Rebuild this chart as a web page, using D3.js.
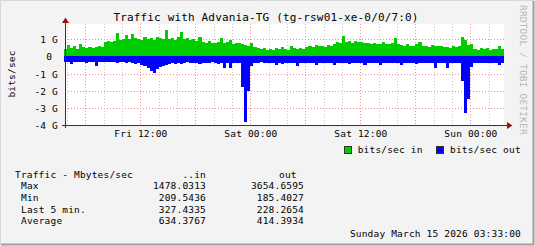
<html>
<head>
<style>
  body { margin: 0; background: #f3f3f3; }
  text { font-family: "DejaVu Sans Mono", monospace; font-size: 9.5px; letter-spacing: 0.18px; fill: #000; }
  .grid-minor { stroke: #c8c8c8; stroke-dasharray: 1,2; shape-rendering: crispEdges; }
  .grid-major { stroke: #f09090; stroke-dasharray: 1,2; shape-rendering: crispEdges; }
</style>
</head>
<body>
<svg id="chart" width="535" height="246"></svg>

<script src="https://d3js.org/d3.v7.min.js"></script>
<script>
// 20 minute samples, Fri 13 Mar 03:40 -> Sun 15 Mar 03:40, Gbit/s
const inBits = [
  0.45, 0.65, 0.50, 0.58, 0.45, 0.72, 0.52, 0.50, 0.56, 0.48, 0.55, 0.60, 0.55,
  0.82, 0.88, 0.85, 0.90,
  1.35,
  0.95, 1.00, 1.25, 1.00, 1.30, 1.05, 1.00, 0.95, 1.10, 1.00, 1.05, 0.98, 1.10, 1.05, 1.00,
  1.55,
  1.00, 1.05, 0.95, 1.10, 1.40, 1.00, 1.05, 0.95, 1.00, 0.90, 1.10,
  0.85, 0.80, 0.92, 0.80, 0.78, 0.85, 1.05, 0.80, 0.85, 0.95, 0.75,
  0.78, 0.80, 0.70, 0.65, 0.62, 0.80, 0.55, 0.50, 0.45, 0.50,
  0.40, 0.45, 0.35, 0.50, 0.42, 0.55, 0.45, 0.40, 0.58, 0.48, 0.42, 0.50, 0.45,
  0.55, 0.60, 0.52, 0.65, 0.58, 0.62, 0.55, 0.68, 0.60,
  0.75, 0.82, 0.80, 1.20, 0.85, 0.88, 0.80, 0.92, 0.82, 0.85, 0.80,
  0.78, 0.72, 0.80, 0.75, 0.70, 0.82, 0.75, 0.70, 0.78, 1.05, 0.70,
  0.65, 0.60, 0.72, 0.62, 0.58, 0.70, 0.85, 0.60, 0.62, 0.55, 0.65, 0.60, 0.58, 0.62, 0.55,
  0.55, 0.50, 0.58, 0.52, 0.60,
  1.10, 0.95, 0.65, 0.75,
  0.45, 0.40, 0.48, 0.42, 0.50, 0.38, 0.45, 0.42, 0.62, 0.45
]
const outBits = [
  0.30, 0.32, 0.42, 0.30, 0.33, 0.30, 0.35, 0.38, 0.32, 0.30, 0.55, 0.35, 0.33,
  0.32, 0.30, 0.35, 0.33, 0.38, 0.32, 0.35, 0.40, 0.35, 0.38, 0.42, 0.40, 0.50,
  0.55, 0.65, 0.85, 0.95, 0.75, 0.60, 0.55, 0.50,
  0.45, 0.40, 0.45, 0.38, 0.42, 0.40, 0.35, 0.38, 0.40, 0.36,
  0.42, 0.38, 0.40, 0.36, 0.35, 0.38, 0.42, 0.40, 0.65, 0.38, 0.70, 0.40, 0.38,
  0.40,
  1.75, 3.80, 2.00, 0.55,
  0.40, 0.38, 0.35, 0.40, 0.38, 0.36, 0.38, 0.50, 0.40, 0.42, 0.38, 0.36, 0.40, 0.38, 0.55, 0.40, 0.36,
  0.38, 0.40, 0.36, 0.50, 0.38, 0.40, 0.36, 0.38, 0.40, 0.48,
  0.38, 0.40, 0.36, 0.38, 0.42, 0.38, 0.40, 0.36, 0.38, 0.50,
  0.40, 0.38, 0.36, 0.40, 0.48, 0.38, 0.40, 0.36, 0.38, 0.40,
  0.38, 0.50, 0.40, 0.36, 0.38, 0.40, 0.42, 0.38, 0.36, 0.40,
  0.38, 0.40, 0.65, 0.38, 0.40, 0.36, 0.68, 0.40, 0.38, 0.36, 0.40,
  1.45, 3.30, 2.50, 0.60,
  0.40, 0.38, 0.36, 0.40, 0.38, 0.36, 0.40, 0.38, 0.50, 0.36
]
const yTicks = [1, 0, -1, -2, -3, -4]
const statRows = ["Max", "Min", "Last 5 min.", "Average"]
const statIn = ["1478.0313", "209.5436", "327.4335", "634.3767"]
const statOut = ["3654.6595", "185.4027", "228.2654", "414.3934"]

const startTime = new Date(2026, 2, 13, 3, 40)
const endTime = new Date(2026, 2, 15, 3, 40)
const stepMs = 20 * 60 * 1000

let svg = d3.select("#chart")

// frame
svg.append("rect").attr("width", 535).attr("height", 246).attr("fill", "#f3f3f3")
svg.append("path").attr("d", "M0.5,245 V0.5 H534").attr("stroke", "#d8d8d8").attr("fill", "none")
svg.append("path").attr("d", "M1,244.5 H533.5 V1").attr("stroke", "#a0a0a0").attr("stroke-width", 2).attr("fill", "none")

let x = d3.scaleTime().domain([startTime, endTime]).range([64, 504])
let y = d3.scaleLinear().domain([-4, 1]).range([125.2, 39.2])

// canvas
svg.append("rect").attr("x", 65).attr("y", 24).attr("width", 439).attr("height", 101).attr("fill", "#fff")

// grid
svg.append("g").selectAll("line")
    .data(x.ticks(d3.timeHour.every(2)).filter(d => d.getHours() % 6 != 0))
    .join("line").attr("class", "grid-minor")
    .attr("x1", d => Math.round(x(d)) + 0.5).attr("x2", d => Math.round(x(d)) + 0.5)
    .attr("y1", 24).attr("y2", 125)
svg.append("g").selectAll("line")
    .data(x.ticks(d3.timeHour.every(6)))
    .join("line").attr("class", "grid-major")
    .attr("x1", d => Math.round(x(d)) + 0.5).attr("x2", d => Math.round(x(d)) + 0.5)
    .attr("y1", 24).attr("y2", 125)
svg.append("g").selectAll("line")
    .data(yTicks.filter(v => v > -4))
    .join("line").attr("class", "grid-major")
    .attr("x1", 65).attr("x2", 504)
    .attr("y1", d => Math.round(y(d)) + 0.5).attr("y2", d => Math.round(y(d)) + 0.5)

// data
function series(vals, sign) {
    let pts = vals.map((v, i) => ({ t: new Date(startTime.getTime() + i * stepMs), v: sign * v }))
    pts.push({ t: endTime, v: sign * vals[vals.length - 1] })
    return pts
}
let area = d3.area()
    .curve(d3.curveStepAfter)
    .x(d => x(d.t))
    .y0(y(0))
    .y1(d => y(d.v))

svg.append("path").datum(series(inBits, 1)).attr("d", area)
    .attr("fill", "#00cc00").attr("shape-rendering", "crispEdges")
svg.append("path").datum(series(outBits, -1)).attr("d", area)
    .attr("fill", "#0000ff").attr("shape-rendering", "crispEdges")

// axes
let yAxis = svg.append("g")
    .attr("transform", "translate(65,0)")
    .call(d3.axisLeft(y).tickValues(yTicks).tickSize(3).tickPadding(4)
        .tickFormat(v => v == 0 ? "0" : v + " G"))
yAxis.select(".domain").remove()
yAxis.selectAll(".tick line").attr("stroke", "#333").attr("x2", 1)
yAxis.selectAll(".tick text").attr("font-size", null).attr("font-family", null)
    .attr("dy", "0.36em").attr("dx", d => d == 0 ? -5.9 : 0)

let xAxis = svg.append("g")
    .attr("transform", "translate(0,125)")
    .call(d3.axisBottom(x).ticks(d3.timeHour.every(12)).tickSize(0).tickPadding(5)
        .tickFormat(d3.timeFormat("%a %H:%M")))
xAxis.select(".domain").remove()
xAxis.selectAll(".tick text").attr("font-size", null).attr("font-family", null)

svg.append("line").attr("x1", 62).attr("x2", 508).attr("y1", 125.5).attr("y2", 125.5)
    .attr("stroke", "#333")
svg.append("line").attr("x1", 65.5).attr("x2", 65.5).attr("y1", 128).attr("y2", 21)
    .attr("stroke", "#333")
svg.append("path").attr("d", "M62,23 L69,23 L65.5,17.5 Z").attr("fill", "#9a1010")
svg.append("path").attr("d", "M507,122 L507,129 L512.5,125.5 Z").attr("fill", "#9a1010")

// titles
svg.append("text").attr("x", 266).attr("y", 20.5).attr("text-anchor", "middle")
    .style("font-size", "11px").style("letter-spacing", "0.16px")
    .text("Traffic with Advania-TG (tg-rsw01-xe-0/0/7:0)")
svg.append("text").attr("transform", "translate(14.5,74) rotate(-90)")
    .attr("text-anchor", "middle").text("bits/sec")
svg.append("text").attr("transform", "translate(520,5) rotate(90)")
    .style("fill", "#b4b4b4").text("RRDTOOL / TOBI OETIKER")

// legend
let legend = [["bits/sec in", "#00cc00", 344.5, 357.7], ["bits/sec out", "#0000ff", 436.5, 450]]
legend.forEach(l => {
    svg.append("rect").attr("x", l[2]).attr("y", 146.5).attr("width", 7).attr("height", 7)
        .attr("fill", l[1]).attr("stroke", "#333")
    svg.append("text").attr("x", l[3]).attr("y", 153.3).text(l[0])
})

// stats
svg.append("text").attr("x", 15).attr("y", 177.5).text("Traffic - Mbytes/sec")
svg.append("text").attr("x", 206).attr("y", 177.5).attr("text-anchor", "end").text("..in")
svg.append("text").attr("x", 279).attr("y", 177.5).text("out")
statRows.forEach((r, i) => {
    let yy = 189.2 + i * 11.75
    svg.append("text").attr("x", 21).attr("y", yy).text(r)
    svg.append("text").attr("x", 206).attr("y", yy).attr("text-anchor", "end").text(statIn[i])
    svg.append("text").attr("x", 304).attr("y", yy).attr("text-anchor", "end").text(statOut[i])
})
svg.append("text").attr("x", 521).attr("y", 236.7).attr("text-anchor", "end")
    .text("Sunday March 15 2026 03:33:00")
</script>
</body>
</html>
